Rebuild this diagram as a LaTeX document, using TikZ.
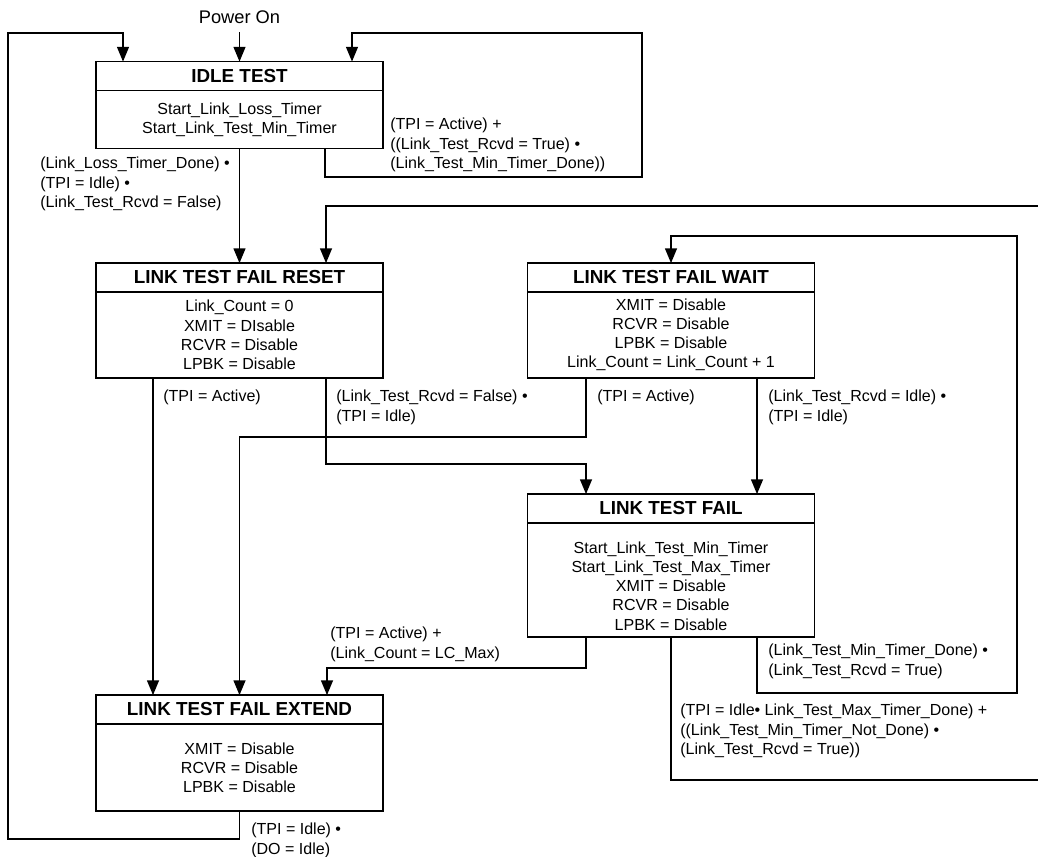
\documentclass[tikz,border=0pt]{standalone}
\usepackage{fontspec}
\setmainfont{Liberation Sans}
\usetikzlibrary{positioning,arrows.meta}
\begin{document}
\begin{tikzpicture}[x=0.025cm,y=-0.025cm,
  head/.style={draw,line width=1.2pt,outer sep=0pt,inner sep=0pt,minimum width=7.175cm,minimum height=0.72cm,font=\fontsize{13.4}{15}\selectfont\bfseries},
  body/.style={draw,line width=1.2pt,outer sep=0pt,inner sep=0pt,minimum width=7.175cm,align=center,font=\fontsize{11.4}{13.6}\selectfont},
  lbl/.style={anchor=north west,inner sep=0pt,align=left,font=\fontsize{11.4}{13.6}\selectfont},
  flow/.style={line width=1pt,-{Triangle[length=10.5pt,width=8.5pt]}},
  wire/.style={line width=1pt}]
\useasboundingbox (0,0) rectangle (1038,856);
\node[font=\fontsize{13}{15}\selectfont,inner ysep=6pt] (power) at (239.5,17) {Power On};
\node[head] (idle) at (239.5,76) {IDLE TEST};
\node[body,minimum height=1.45cm,below=0pt of idle] (idleb) {Start\_Link\_Loss\_Timer\\Start\_Link\_Test\_Min\_Timer};
\node[head] (reset) at (239.5,277.5) {LINK TEST FAIL RESET};
\node[body,minimum height=2.15cm,below=0pt of reset] (resetb) {Link\_Count = 0\\XMIT = DIsable\\RCVR = Disable\\LPBK = Disable};
\node[head] (wait) at (671,277.5) {LINK TEST FAIL WAIT};
\node[body,minimum height=2.15cm,below=0pt of wait] (waitb) {XMIT = Disable\\RCVR = Disable\\LPBK = Disable\\Link\_Count = Link\_Count + 1};
\node[head] (fail) at (671,508.5) {LINK TEST FAIL};
\node[body,minimum height=2.85cm,below=0pt of fail] (failb) {\rule{0pt}{17pt}Start\_Link\_Test\_Min\_Timer\\Start\_Link\_Test\_Max\_Timer\\XMIT = Disable\\RCVR = Disable\\LPBK = Disable};
\node[head] (extend) at (239.5,709.5) {LINK TEST FAIL EXTEND};
\node[body,minimum height=2.175cm,below=0pt of extend] (extendb) {XMIT = Disable\\RCVR = Disable\\LPBK = Disable};
\coordinate (eastin) at (1038,206);
\coordinate (eastout) at (1038,780);
\draw[flow] (power) -- (idle);
\draw[flow] (extendb.south) -- ++(0,28) -| (8,33) -| (idle.north -| 123,0);
\draw[flow] (idleb.south -| 325,0) -- (325,177) -| (642,33) -| (idle.north -| 352,0);
\draw[flow] (idleb) -- (reset);
\draw[flow] (eastin) -| (reset.north -| 326,0);
\draw[flow] (resetb.south -| 153,0) -- (extend.north -| 153,0);
\draw[flow] (resetb.south -| 326,0) -- (326,464) -| (fail.north -| 586,0);
\draw[flow] (waitb.south -| 586,0) -- (586,437) -| (extend.north);
\draw[flow] (waitb.south -| 757,0) -- (fail.north -| 757,0);
\draw[flow] (failb.south -| 586,0) -- (586,668) -| (extend.north -| 327,0);
\draw[wire] (failb.south) |- (eastout);
\draw[flow] (failb.south -| 757,0) -- (757,693) -| (1017,236) -| (wait.north);
\node[lbl] (cidle) at (390,118) {(TPI = Active) +\\((Link\_Test\_Rcvd = True) •\\(Link\_Test\_Min\_Timer\_Done))};
\node[lbl] (closs) at (40,157) {(Link\_Loss\_Timer\_Done) •\\(TPI = Idle) •\\(Link\_Test\_Rcvd = False)};
\node[lbl] (cresa) at (163,390) {(TPI = Active)};
\node[lbl] (cresb) at (336,390) {(Link\_Test\_Rcvd = False) •\\(TPI = Idle)};
\node[lbl] (cwaita) at (597,390) {(TPI = Active)};
\node[lbl] (cwaitb) at (768,390) {(Link\_Test\_Rcvd = Idle) •\\(TPI = Idle)};
\node[lbl] (cmax) at (330,627) {(TPI = Active) +\\(Link\_Count = LC\_Max)};
\node[lbl] (cmin) at (768,644) {(Link\_Test\_Min\_Timer\_Done) •\\(Link\_Test\_Rcvd = True)};
\node[lbl] (cout) at (680,704) {(TPI = Idle• Link\_Test\_Max\_Timer\_Done) +\\((Link\_Test\_Min\_Timer\_Not\_Done) •\\(Link\_Test\_Rcvd = True))};
\node[lbl] (cext) at (251,823) {(TPI = Idle) •\\(DO = Idle)};
\end{tikzpicture}
\end{document}
